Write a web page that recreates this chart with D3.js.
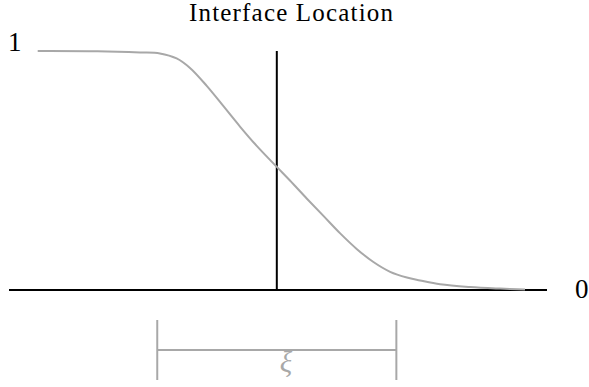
<!DOCTYPE html>
<html>
<head>
<meta charset="utf-8">
<script src="https://cdn.jsdelivr.net/npm/d3@7"></script>
<style>
  body { margin: 0; background: #fff; }
  text { font-family: "Liberation Serif", "DejaVu Serif", serif; }
</style>
</head>
<body>
<svg id="chart"></svg>
<script>
(function () {
  const w = 589;
  const h = 387;

  // profile of the order parameter across the interface (x in units of xi)
  const xs = [-1.0, -0.75, -0.572, -0.489, -0.419, -0.363, -0.293, -0.224, -0.154, -0.084, 0, 0.055, 0.125, 0.195, 0.264, 0.334, 0.404, 0.474, 0.544, 0.599, 0.683, 0.808, 0.934, 1.038];
  const phi = [1.0, 0.999, 0.994, 0.99, 0.969, 0.929, 0.854, 0.77, 0.684, 0.603, 0.515, 0.458, 0.383, 0.31, 0.238, 0.172, 0.117, 0.076, 0.052, 0.04, 0.024, 0.0126, 0.006, 0.002];

  const xDomain = [-1.12, 1.13];
  const interfaceAt = 0;
  const xiSpan = [-0.5, 0.5];
  const yLabels = ["1", "0"];
  const title = "Interface Location";
  const xiLabel = "\u03BE";

  const data = xs.map((x, i) => ({ x, y: phi[i] }));

  const svg = d3.select("#chart").attr("width", w).attr("height", h);

  const x = d3.scaleLinear().domain(xDomain).range([9, 547]);
  const y = d3.scaleLinear().domain([0, 1]).range([290, 51]);

  const grey = "#a8a8a8";

  // title
  svg.append("text")
    .attr("x", 291)
    .attr("y", 21)
    .attr("text-anchor", "middle")
    .attr("font-size", 25)
    .attr("textLength", 204)
    .attr("lengthAdjust", "spacing")
    .text(title);

  // baseline (phi = 0)
  svg.append("line")
    .attr("x1", x(xDomain[0])).attr("x2", x(xDomain[1]))
    .attr("y1", y(0)).attr("y2", y(0))
    .attr("stroke", "black").attr("stroke-width", 2);

  // interface line
  svg.append("line")
    .attr("x1", x(interfaceAt)).attr("x2", x(interfaceAt))
    .attr("y1", y(0)).attr("y2", y(1))
    .attr("stroke", "black").attr("stroke-width", 2);

  // end labels
  svg.append("text")
    .attr("x", 8).attr("y", y(1))
    .attr("font-size", 27)
    .text(yLabels[0]);
  svg.append("text")
    .attr("x", 575).attr("y", y(0) + 8)
    .attr("font-size", 27)
    .text(yLabels[1]);

  // profile curve
  const line = d3.line()
    .x((d) => x(d.x))
    .y((d) => y(d.y))
    .curve(d3.curveCatmullRom.alpha(0.5));

  svg.append("path")
    .datum(data)
    .attr("d", line)
    .attr("fill", "none")
    .attr("stroke", grey)
    .attr("stroke-width", 2);

  // width bracket
  const b = svg.append("g").attr("stroke", grey).attr("stroke-width", 2);
  xiSpan.forEach((v) => {
    b.append("line")
      .attr("x1", x(v)).attr("x2", x(v))
      .attr("y1", 320).attr("y2", 380);
  });
  b.append("line")
    .attr("x1", x(xiSpan[0])).attr("x2", x(xiSpan[1]))
    .attr("y1", 350).attr("y2", 350);

  svg.append("text")
    .attr("x", 286)
    .attr("y", 372)
    .attr("text-anchor", "middle")
    .attr("font-size", 29)
    .attr("font-style", "italic")
    .attr("fill", grey)
    .text(xiLabel);
})();
</script>
</body>
</html>
